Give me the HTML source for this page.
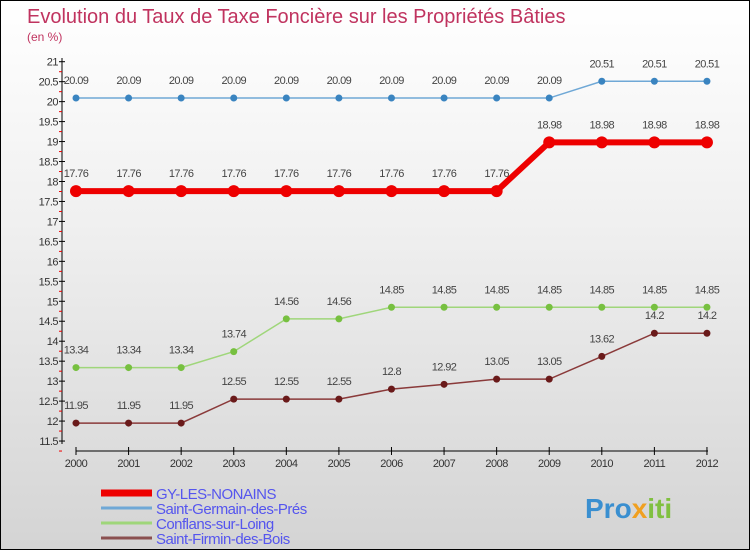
<!DOCTYPE html>
<html><head><meta charset="utf-8"><style>
body{margin:0}
#c{position:relative;width:748px;height:548px;border:1px solid #000;background:linear-gradient(#fff 0%,#f0f0f0 40%,#d4d4d4 100%);overflow:hidden;font-family:"Liberation Sans",sans-serif}
</style></head><body>
<div id="c">
<svg id="s" width="748" height="548" xmlns="http://www.w3.org/2000/svg"></svg>
</div>
<script>
const years=[2000,2001,2002,2003,2004,2005,2006,2007,2008,2009,2010,2011,2012];
const yTicks=[11.5,12,12.5,13,13.5,14,14.5,15,15.5,16,16.5,17,17.5,18,18.5,19,19.5,20,20.5,21];
const gy=[17.76,17.76,17.76,17.76,17.76,17.76,17.76,17.76,17.76,18.98,18.98,18.98,18.98];
const sgp=[20.09,20.09,20.09,20.09,20.09,20.09,20.09,20.09,20.09,20.09,20.51,20.51,20.51];
const csl=[13.34,13.34,13.34,13.74,14.56,14.56,14.85,14.85,14.85,14.85,14.85,14.85,14.85];
const sfb=[11.95,11.95,11.95,12.55,12.55,12.55,12.8,12.92,13.05,13.05,13.62,14.2,14.2];
const seriesNames=["GY-LES-NONAINS","Saint-Germain-des-Prés","Conflans-sur-Loing","Saint-Firmin-des-Bois"];
const NS="http://www.w3.org/2000/svg",s=document.getElementById('s');
const X=i=>75+i*52.58, Y=v=>60.7+(21-v)*39.93;
function el(t,a,txt,p){const e=document.createElementNS(NS,t);for(const k in a)e.setAttribute(k,a[k]);if(txt!==undefined)e.textContent=txt;(p||s).appendChild(e);return e;}
let e;
e=el('text',{x:26,y:22,'font-size':20,fill:'#c0335f'},'Evolution du Taux de Taxe Foncière sur les Propriétés Bâties');

e=el('text',{x:26,y:40,'font-size':12,fill:'#c0335f'},'(en %)');

e=el('line',{x1:61,y1:57,x2:61,y2:443,stroke:'#000'});

yTicks.forEach(v=>{const y=Y(v);
 e=el('line',{x1:58,y1:y,x2:64,y2:y,stroke:'#000'});
 e=el('line',{x1:58,y1:y+10,x2:61,y2:y+10,stroke:'#e00'});
 e=el('text',{x:57,y:y+4,'font-size':11,fill:'#333','text-anchor':'end','letter-spacing':'-0.5'},String(v));
});
e=el('line',{x1:75,y1:450,x2:707,y2:450,stroke:'#000'});

years.forEach((yr,i)=>{
 e=el('line',{x1:X(i),y1:446,x2:X(i),y2:454,stroke:'#000'});
 e=el('text',{x:X(i),y:466,'font-size':11,fill:'#333','text-anchor':'middle','letter-spacing':'-0.5'},String(yr));
});
const cfg=[[sgp,'#6fa8d6','#3a84c0',1.5,3.5],[csl,'#9fd67a','#77c040',1.5,3.5],[sfb,'#8a3a3a','#6a1a1a',1.5,3.5],[gy,'#ee0000','#ee0000',6,6]];
const order=[1,2,3,0];
cfg.forEach((c,k)=>{const [d,lc,pc,w,r]=c;
 e=el('polyline',{points:d.map((v,i)=>X(i)+','+Y(v)).join(' '),fill:'none',stroke:lc,'stroke-width':w});
 
 d.forEach((v,i)=>{
  e=el('circle',{cx:X(i),cy:Y(v),r:r,fill:pc});
  e=el('text',{x:X(i),y:Y(v)-14,'font-size':11,fill:'#444','text-anchor':'middle','letter-spacing':'-0.6'},String(v));
 });
});
const legC=['#ee0000','#6fa8d6','#9fd67a','#8a5050'],legW=[7,3,3,3];
seriesNames.forEach((n,k)=>{const y=492+k*15;
 e=el('line',{x1:100,y1:y,x2:151,y2:y,stroke:legC[k],'stroke-width':legW[k]});
 e=el('text',{x:155,y:y+6,'font-size':15,fill:'#5555ee','letter-spacing':'-0.5'},n);
});
const logo=el('text',{x:584,y:517,'font-size':28,'font-weight':'bold'});

el('tspan',{fill:'#3a8fd0'},'Pro',logo);
el('tspan',{fill:'#f0a020'},'x',logo);
el('tspan',{fill:'#80c040'},'iti',logo);
</script>
</body></html>
